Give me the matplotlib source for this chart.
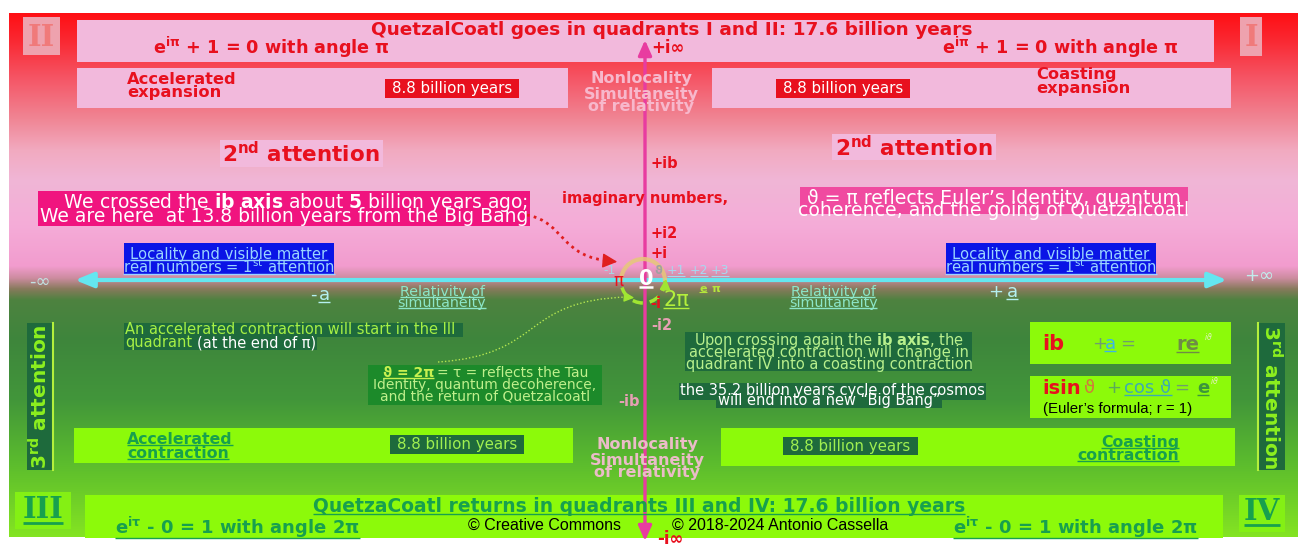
import numpy as np
import matplotlib
matplotlib.use('Agg')
import matplotlib.pyplot as plt
from matplotlib.patches import Rectangle, FancyArrowPatch, PathPatch, Arc
from matplotlib.path import Path

plt.rcParams['font.family'] = ['DejaVu Sans']
plt.rcParams['mathtext.fontset'] = 'dejavusans'

# ---------------- content ----------------
quadrant_labels = ['I', 'II', 'III', 'IV']
upper_title = 'QuetzalCoatl goes in quadrants I and II: 17.6 billion years'
lower_title = 'QuetzaCoatl returns in quadrants III and IV: 17.6 billion years'
euler_upper = r'e$^{\mathbf{i\pi}}$ + 1 = 0 with angle π'
euler_lower = r'e$^{\mathbf{i\tau}}$ - 0 = 1 with angle 2π'
phase_duration = '8.8 billion years'
upper_phases = [['Accelerated', 'expansion'], ['Coasting', 'expansion']]
lower_phases = [['Accelerated', 'contraction'], ['Coasting', 'contraction']]
second_attention = r'2$^{\mathbf{nd}}$ attention'
third_attention = r'3$^{\mathbf{rd}}$ attention'
nonlocal_lines = ['Nonlocality', 'Simultaneity', 'of relativity']
relativity_lines = ['Relativity of', 'simultaneity']
locality_lines = ['Locality and visible matter', r'real numbers = 1$^{\mathrm{st}}$ attention']
crossed_lines = [r'We crossed the $\mathbf{ib\ axis}$ about $\mathbf{5}$ billion years ago;',
                 'We are here  at 13.8 billion years from the Big Bang']
euler_identity_lines = ['ϑ = π reflects Euler\u2019s Identity, quantum',
                        'coherence, and the going of Quetzalcoatl']
contraction_lines = ['An accelerated contraction will start in the III', 'quadrant', '(at the end of π)']
tau_lines = ['ϑ = 2π', '= τ = reflects the Tau', 'Identity, quantum decoherence,',
             'and the return of Quetzalcoatl']
crossing_lines = [r'Upon crossing again the $\mathbf{ib\ axis}$, the',
                  'accelerated contraction will change in',
                  'quadrant IV into a coasting contraction']
cycle_lines = ['the 35.2 billion years cycle of the cosmos', 'will end into a new \u201cBig Bang\u201d']
real_ticks = ['-1', '+1', '+2', '+3']
imag_ticks = ['+ib', '+i2', '+i', '-i', '-i2', '-ib']
axis_ends = ['-∞', '+∞', '+i∞', '-i∞']
formula_1 = ['ib', '+', 'a', '=', 're', r'$^{i\vartheta}$']
formula_2 = ['isin', 'ϑ', '+', 'cos ϑ', '=', 'e', r'$^{i\vartheta}$']
formula_note = '(Euler\u2019s formula; r = 1)'
copyright_lines = ['© Creative Commons', '© 2018-2024 Antonio Cassella']
imaginary_label = 'imaginary numbers,'

# ---------------- styles ----------------
RED = '#e8101e'
PINK_BOX = '#f2b9dc'
LIME = '#8cfa0a'
DKGREEN_TXT = '#17a04e'
DKGREEN_BOX = '#1e6a3c'
LTGREEN_TXT = '#a6f044'
CYAN = '#64e6f0'
MAGENTA = '#e83ca0'

W, H = 1298, 546
fig = plt.figure(figsize=(W / 100, H / 100), dpi=100)
ax = fig.add_axes([0, 0, 1, 1])
ax.set_xlim(0, W)
ax.set_ylim(H, 0)
ax.axis('off')

# background gradient
stops = [(13, (255, 15, 20)), (40, (250, 40, 50)), (80, (245, 88, 104)),
         (120, (240, 135, 150)), (150, (242, 170, 192)), (180, (240, 182, 214)),
         (225, (245, 172, 216)), (266, (242, 156, 206)), (278, (205, 140, 160)),
         (289, (135, 122, 92)), (300, (78, 130, 64)), (340, (62, 134, 60)),
         (400, (66, 150, 58)), (460, (90, 186, 46)), (537, (132, 228, 34))]
ys = np.arange(13, 538)
sy = [s[0] for s in stops]
grad = np.stack([np.interp(ys, sy, [s[1][k] for s in stops]) for k in range(3)], axis=-1) / 255.0
ax.imshow(grad[:, None, :], extent=[9, W, 537, 13], aspect='auto', interpolation='bilinear', zorder=0)

UL = []


def txt(x, y, s, size=10, color='k', weight='normal', ha='left', va='center', family='DejaVu Sans',
        ul=False, rot=0, ulw=1.0, z=5, **kw):
    t = ax.text(x, y + 1, s, fontsize=size, color=color, fontweight=weight, ha=ha, va=va,
                rotation=rot, family=family, zorder=z, **kw)
    if ul:
        UL.append((t, color, ulw))
    return t


def box(x0, y0, x1, y1, fc, z=2, **kw):
    ax.add_patch(Rectangle((x0, y0), x1 - x0, y1 - y0, fc=fc, ec='none', zorder=z, **kw))


# ---------- top band ----------
box(77, 20, 1214, 62, PINK_BOX)
box(23, 17, 60, 55, '#eea2ae')
txt(41, 36, quadrant_labels[1], 21, '#f07a7a', 'bold', ha='center', family='DejaVu Serif')
box(1240, 17, 1262, 56, '#eea2ae')
txt(1251, 36, quadrant_labels[0], 21, '#f07a7a', 'bold', ha='center', family='DejaVu Serif')
txt(672, 29, upper_title, 13.3, RED, 'bold', ha='center')
txt(153, 46, euler_upper, 12.7, RED, 'bold')
txt(942, 46, euler_upper, 12.7, RED, 'bold')
txt(651, 47, axis_ends[2], 12, RED, 'bold')

box(77, 68, 568, 108, PINK_BOX)
box(712, 68, 1231, 108, PINK_BOX)
txt(127, 79, upper_phases[0][0], 11.7, RED, 'bold')
txt(127, 92, upper_phases[0][1], 11.7, RED, 'bold')
txt(1036, 74, upper_phases[1][0], 11.7, RED, 'bold')
txt(1036, 87, upper_phases[1][1], 11.7, RED, 'bold')
box(385, 79, 519, 98, RED, z=3)
txt(452, 88, phase_duration, 10.8, 'white', ha='center')
box(776, 79, 910, 98, RED, z=3)
txt(843, 88, phase_duration, 10.8, 'white', ha='center')
for i, s in enumerate(nonlocal_lines):
    txt(641, 78 + [0, 16, 28][i], s, 11.5, '#f7b8cc', 'bold', ha='center')

# ---------- 2nd attention ----------
box(220, 140, 383, 167, PINK_BOX)
txt(301, 153, second_attention, 15.5, RED, 'bold', ha='center')
box(832, 134, 996, 160, PINK_BOX)
txt(914, 147, second_attention, 15.5, RED, 'bold', ha='center')

box(38, 191, 530, 226, '#f0147f')
txt(528, 202, crossed_lines[0], 13.5, 'white', ha='right')
txt(528, 215, crossed_lines[1], 13.5, 'white', ha='right')
box(800, 187, 1188, 214, '#f04aa0')
txt(994, 198, euler_identity_lines[0], 13.6, 'white', ha='center')
txt(994, 209, euler_identity_lines[1], 13.6, 'white', ha='center')

txt(562, 197, imaginary_label, 10.5, RED, 'bold')

# locality boxes
for cx, x0, x1 in [(229, 124, 334), (1051, 946, 1156)]:
    box(x0, 243, x1, 274, '#0a14e6')
    txt(cx, 253, locality_lines[0], 10.6, '#9ad4ff', ha='center', ul=True)
    txt(cx, 266, locality_lines[1], 10.6, '#9ad4ff', ha='center', ul=True)

# ---------- axes ----------
ax.add_patch(FancyArrowPatch((75, 280), (1227, 280), arrowstyle='<|-|>,head_length=1.1,head_width=0.45',
                             mutation_scale=10, lw=3, color=CYAN, shrinkA=0, shrinkB=0, zorder=4))
ax.add_patch(FancyArrowPatch((645, 541), (645, 40), arrowstyle='<|-|>,head_length=0.9,head_width=0.4',
                             mutation_scale=10, lw=2.4, color=MAGENTA, shrinkA=0, shrinkB=0, zorder=4))
txt(40, 281, axis_ends[0], 13, '#c2e2e2', ha='center')
txt(1259, 275, axis_ends[1], 13, '#c2ecec', ha='center')
txt(657, 538, axis_ends[3], 12, RED, 'bold')

# imaginary ticks
txt(651, 162, imag_ticks[0], 10.5, RED, 'bold')
txt(651, 232, imag_ticks[1], 10.5, RED, 'bold')
txt(651, 253, imag_ticks[2], 10.5, RED, 'bold')
txt(650, 302, imag_ticks[3], 10.5, RED, 'bold')
txt(651, 324, imag_ticks[4], 10.5, '#e6a0b4', 'bold')
txt(618, 401, imag_ticks[5], 10.5, '#e6a0b4', 'bold')

# center circle
ax.add_patch(Arc((643, 281), 44, 44, theta1=180, theta2=360, color='#e6c878', lw=3, alpha=0.85, zorder=4))
ax.add_patch(Arc((643, 281), 44, 44, theta1=0, theta2=180, color='#a0e632', lw=2.5,
                 linestyle=(0, (3, 2)), zorder=4))
ax.annotate('', xy=(666, 276), xytext=(665, 290),
            arrowprops=dict(arrowstyle='-|>,head_length=0.6,head_width=0.3', color='#a0e632', lw=1.5), zorder=6)
txt(646, 278, '0', 15, 'white', 'bold', ha='center', ul=True, ulw=1.8, z=7)
txt(618, 280, 'π', 12, RED, ha='center', z=7)
txt(610, 270, real_ticks[0], 9, '#a8d4e4', ha='center')
for x, s in zip([676, 699, 720], real_ticks[1:]):
    txt(x, 270, s, 9, '#a8d8f0', ha='center', ul=True, ulw=0.8)
txt(658, 269, 'ϑ', 8.5, '#a0a0a0', 'bold', ha='center')
txt(703, 288, 'e', 8, '#b4e63c', 'bold', ha='center', ul=True, ulw=0.8)
txt(716, 288, 'π', 8, '#b4e63c', 'bold', ha='center')
txt(676, 299, '2π', 15, '#b4f03c', ha='center', ul=True)

# dotted connectors
p1 = Path([(527, 215), (565, 222), (560, 258), (612, 261)], [Path.MOVETO, Path.CURVE4, Path.CURVE4, Path.CURVE4])
ax.add_patch(PathPatch(p1, fill=False, ec='#e01e1e', lw=2, linestyle=(0, (1, 1.5)), zorder=4))
ax.annotate('', xy=(620, 262), xytext=(608, 261),
            arrowprops=dict(arrowstyle='-|>,head_length=0.9,head_width=0.45', color='#e01e1e', lw=1), zorder=6)
p2 = Path([(438, 362), (545, 355), (520, 300), (628, 297)], [Path.MOVETO, Path.CURVE4, Path.CURVE4, Path.CURVE4])
ax.add_patch(PathPatch(p2, fill=False, ec='#b4e650', lw=1, linestyle=(0, (1, 1.5)), zorder=4))
ax.annotate('', xy=(637, 298), xytext=(626, 297),
            arrowprops=dict(arrowstyle='-|>,head_length=0.6,head_width=0.3', color='#a0e632', lw=1), zorder=6)

# real part labels
txt(313, 294, '-', 13, '#b4f0f0', ha='center')
txt(324, 294, 'a', 13, '#b4f0f0', ha='center', ul=True)
txt(996, 291, '+', 13, '#b4f0f0', ha='center')
txt(1012, 291, 'a', 13, '#b4f0f0', ha='center', ul=True)
for cx in (442, 833):
    txt(cx, 291, relativity_lines[0], 10.3, '#8ce6c8', ha='center', ul=True)
    txt(cx, 302, relativity_lines[1], 10.3, '#8ce6c8', ha='center', ul=True)

# ---------- lower-left notes ----------
box(124, 323, 463, 337, DKGREEN_BOX)
box(124, 337, 317, 350, DKGREEN_BOX)
txt(125, 329, contraction_lines[0], 10.5, LTGREEN_TXT)
txt(125, 342, contraction_lines[1], 10.5, LTGREEN_TXT)
txt(197, 342, contraction_lines[2], 10.5, 'white')

box(368, 365, 602, 405, '#1c8a2a')
txt(434, 372, tau_lines[0], 10, '#c8f050', 'bold', ha='right', ul=True)
txt(437, 372, tau_lines[1], 10, '#c0f08c')
txt(485, 384, tau_lines[2], 10, '#c0f08c', ha='center')
txt(485, 396, tau_lines[3], 10, '#c0f08c', ha='center')

# ---------- lower-right notes ----------
box(685, 332, 972, 371, DKGREEN_BOX)
txt(829, 340, crossing_lines[0], 10.5, '#b8f08c', ha='center')
txt(829, 352, crossing_lines[1], 10.5, '#b8f08c', ha='center')
txt(829, 363, crossing_lines[2], 10.5, '#b8f08c', ha='center')
box(679, 383, 986, 400, DKGREEN_BOX)
box(716, 400, 942, 408, DKGREEN_BOX)
txt(832, 390, cycle_lines[0], 10.5, 'white', ha='center')
txt(829, 400, cycle_lines[1], 10.5, 'white', ha='center')

# formula boxes
box(1030, 322, 1231, 364, LIME)
txt(1042, 343, formula_1[0], 15, RED, 'bold')
txt(1092, 343, formula_1[1], 13, '#6e9e6e')
txt(1110, 343, formula_1[2], 13, '#3cb4e6', ha='center', ul=True)
txt(1128, 343, formula_1[3], 13, '#6e9e6e', ha='center')
txt(1176, 343, formula_1[4], 14, '#6e8c46', 'bold', ul=True)
txt(1204, 337, formula_1[5], 8, '#e6f0c8')
box(1030, 376, 1231, 418, LIME)
txt(1042, 387, formula_2[0], 14, RED, 'bold')
txt(1090, 387, formula_2[1], 13, '#d2783c', ha='center')
txt(1114, 387, formula_2[2], 13, '#5aaa5a', ha='center')
txt(1148, 387, formula_2[3], 13, '#3caab4', ha='center', ul=True)
txt(1182, 387, formula_2[4], 13, '#6e9e6e', ha='center')
txt(1203, 387, formula_2[5], 13, '#3c963c', 'bold', ha='center', ul=True)
txt(1210, 381, formula_2[6], 8, '#e6f0c8')
txt(1043, 408, formula_note, 10.8, 'black', family='Liberation Sans')

# 3rd attention
box(27, 323, 53, 470, DKGREEN_BOX)
ax.plot([53, 53], [323, 470], color='#b4f03c', lw=1.5, zorder=3)
txt(40, 396, third_attention, 14.5, '#8cf01e', 'bold', ha='center', rot=90)
box(1258, 323, 1285, 470, DKGREEN_BOX)
ax.plot([1258, 1258], [323, 470], color='#b4f03c', lw=1.5, zorder=3)
txt(1271, 396, third_attention, 14.5, '#8cf01e', 'bold', ha='center', rot=270)

# lower phase boxes
box(74, 428, 573, 463, LIME)
txt(127, 438, lower_phases[0][0], 11.3, DKGREEN_TXT, 'bold', ul=True)
txt(127, 452, lower_phases[0][1], 11.3, DKGREEN_TXT, 'bold', ul=True)
box(390, 435, 524, 454, DKGREEN_BOX, z=3)
txt(457, 444, phase_duration, 10.8, '#a0f050', ha='center')
box(721, 428, 1235, 466, LIME)
box(783, 437, 918, 455, DKGREEN_BOX, z=3)
txt(850, 445, phase_duration, 10.8, '#a0f050', ha='center')
txt(1179, 441, lower_phases[1][0], 11.3, DKGREEN_TXT, 'bold', ha='right', ul=True)
txt(1179, 454, lower_phases[1][1], 11.3, DKGREEN_TXT, 'bold', ha='right', ul=True)
for i, s in enumerate(nonlocal_lines):
    txt(647, 444 + [0, 16, 28][i], s, 11.5, '#ebbcc8', 'bold', ha='center')

# bottom band
box(85, 495, 1223, 538, LIME)
box(15, 492, 71, 529, '#84f014')
txt(43, 509, quadrant_labels[2], 21, DKGREEN_TXT, 'bold', ha='center', family='DejaVu Serif', ul=True, ulw=2)
box(1239, 495, 1285, 532, '#84f014')
txt(1262, 511, quadrant_labels[3], 21, DKGREEN_TXT, 'bold', ha='center', family='DejaVu Serif', ul=True, ulw=2)
txt(639, 505, lower_title, 13.5, DKGREEN_TXT, 'bold', ha='center', ul=True)
txt(115, 526, euler_lower, 13, DKGREEN_TXT, 'bold', ul=True)
txt(953, 526, euler_lower, 13, DKGREEN_TXT, 'bold', ul=True)
txt(544, 524, copyright_lines[0], 11.5, 'black', ha='center', family='Liberation Sans')
txt(780, 524, copyright_lines[1], 11.5, 'black', ha='center', family='Liberation Sans')

# underlines from rendered text extents
fig.canvas.draw()
r = fig.canvas.get_renderer()
inv = ax.transData.inverted()
for t, c, w in UL:
    bb = t.get_window_extent(r)
    (x0, ya), (x1, yb) = inv.transform([[bb.x0, bb.y0], [bb.x1, bb.y1]])
    yl = max(ya, yb) - 2
    ax.plot([x0, x1], [yl, yl], color=c, lw=w, zorder=t.get_zorder(), solid_capstyle='butt')

fig.savefig('out.png', dpi=100)
